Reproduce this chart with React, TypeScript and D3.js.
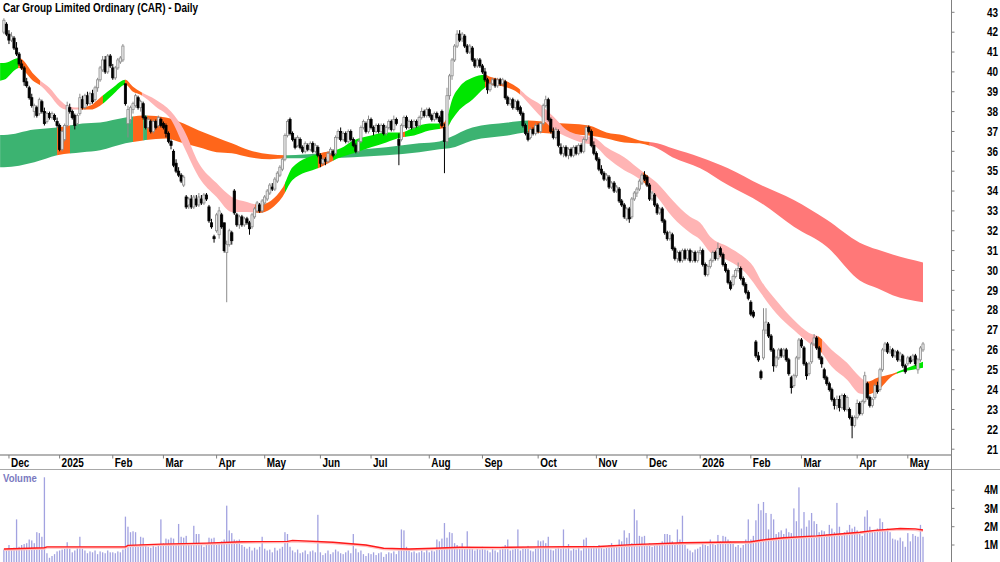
import React from "react";
import * as d3 from "d3";

// open, high, low, close
type Bar = [number, number, number, number];
type Band = [number, number, number];
type Seg = [number, number, string];

const title = "Car Group Limited Ordinary (CAR) - Daily";
const firstDay = "2024-11-28";
const lastDay = "2026-05-11";
const holidays = [
  "2024-12-25", "2024-12-26", "2025-01-01", "2025-01-27", "2025-04-18", "2025-04-21",
  "2025-04-25", "2025-06-09", "2025-12-25", "2025-12-26", "2026-01-01", "2026-01-26",
  "2026-04-03", "2026-04-06",
];
const priceTicks = [21, 22, 23, 24, 25, 26, 27, 28, 29, 30, 31, 32, 33, 34, 35, 36, 37, 38, 39, 40, 41, 42, 43];
const volumeTicks = [1, 2, 3, 4];
const volumeTickLabels = ["1M", "2M", "3M", "4M"];

const dec24: Bar[] = [
  [42.0, 42.7, 41.9, 42.6], [42.4, 42.5, 41.8, 41.9], [41.9, 42.1, 41.4, 41.6], [41.6, 42.0, 41.5, 41.8],
  [41.7, 41.8, 41.1, 41.2], [41.2, 41.5, 40.8, 40.9], [40.9, 41.0, 40.3, 40.4], [40.4, 40.6, 40.1, 40.2],
  [40.2, 40.3, 39.3, 39.5], [39.5, 39.7, 39.2, 39.3], [39.2, 39.3, 38.6, 38.7], [38.7, 38.9, 38.2, 38.3],
  [38.0, 38.4, 37.7, 38.3], [38.2, 38.3, 37.7, 37.8], [37.9, 38.7, 37.8, 38.6], [38.5, 38.6, 37.9, 38.0],
  [38.0, 38.2, 37.3, 37.4], [37.5, 38.0, 37.4, 37.9], [37.9, 38.0, 37.6, 37.7], [37.7, 38.0, 37.6, 37.9],
  [37.8, 37.9, 37.5, 37.6], [37.5, 37.7, 37.2, 37.3],
];
const jan25: Bar[] = [
  [37.3, 37.4, 36.0, 36.1], [36.1, 37.1, 36.0, 37.0], [36.6, 37.4, 36.5, 37.3], [37.3, 38.5, 37.2, 38.3],
  [38.2, 38.4, 37.9, 38.0], [38.0, 38.1, 37.6, 37.7], [37.8, 37.9, 37.1, 37.3], [37.4, 37.9, 37.3, 37.8],
  [37.9, 38.9, 37.8, 38.7], [38.6, 38.8, 38.1, 38.2], [38.2, 38.9, 38.1, 38.8], [38.8, 39.0, 38.3, 38.4],
  [38.4, 39.0, 38.3, 38.9], [38.9, 39.1, 38.4, 38.5], [38.6, 39.3, 38.5, 39.2], [39.2, 39.7, 39.0, 39.6],
  [39.6, 40.3, 39.5, 40.2], [40.1, 40.8, 40.0, 40.6], [40.6, 40.8, 39.9, 40.0], [40.0, 40.9, 39.9, 40.8],
  [40.8, 40.9, 40.2, 40.3],
];
const feb25: Bar[] = [
  [40.2, 40.4, 39.6, 39.7], [39.7, 40.3, 39.6, 40.2], [40.2, 40.7, 40.1, 40.6], [40.5, 40.8, 40.4, 40.7],
  [40.6, 41.4, 40.5, 41.3], [39.4, 39.4, 38.3, 38.4], [37.4, 38.3, 36.7, 38.1], [37.6, 38.3, 37.4, 38.2],
  [38.1, 38.5, 37.9, 38.4], [38.3, 38.9, 38.2, 38.8], [38.7, 38.8, 38.1, 38.2], [38.2, 38.6, 38.0, 38.5],
  [38.4, 38.5, 37.6, 37.7], [37.7, 37.8, 37.1, 37.2], [37.2, 37.7, 37.1, 37.6], [37.5, 37.6, 36.9, 37.0],
  [37.0, 37.6, 36.9, 37.5], [37.5, 37.6, 37.1, 37.2], [37.3, 37.8, 37.2, 37.7], [37.6, 37.7, 37.2, 37.3],
];
const mar25: Bar[] = [
  [37.4, 37.5, 37.1, 37.2], [37.3, 37.4, 36.7, 36.9], [36.9, 37.0, 36.4, 36.5], [36.5, 36.6, 36.1, 36.3],
  [36.0, 36.1, 35.2, 35.3], [35.4, 35.6, 34.9, 35.0], [35.0, 35.2, 34.7, 34.8], [34.8, 34.9, 34.4, 34.5],
  [34.3, 34.8, 34.2, 34.7], [33.7, 33.8, 33.1, 33.2], [33.3, 33.7, 33.1, 33.6], [33.6, 33.8, 33.1, 33.2],
  [33.2, 33.8, 33.1, 33.7], [33.6, 33.8, 33.2, 33.3], [33.3, 33.9, 33.2, 33.7], [33.6, 33.8, 33.3, 33.4],
  [33.4, 33.9, 33.3, 33.8], [33.8, 33.9, 33.5, 33.6], [33.2, 33.3, 32.4, 32.5], [32.4, 32.6, 32.1, 32.2],
  [31.7, 31.8, 31.4, 31.6],
];
const apr25: Bar[] = [
  [32.0, 32.9, 31.9, 32.8], [31.8, 33.2, 31.6, 33.0], [32.8, 32.9, 32.1, 32.2], [32.4, 32.4, 30.9, 31.0],
  [30.9, 31.5, 28.4, 31.3], [31.3, 32.1, 31.2, 32.0], [31.9, 32.0, 31.3, 31.5], [34.0, 34.1, 32.8, 32.9],
  [32.8, 32.9, 32.2, 32.3], [32.3, 32.8, 32.1, 32.7], [32.7, 32.8, 32.2, 32.3], [32.3, 32.7, 32.2, 32.6],
  [32.6, 32.7, 32.3, 32.4], [32.4, 32.5, 31.8, 32.1], [32.2, 32.9, 32.1, 32.8], [32.7, 33.2, 32.6, 33.1],
  [33.0, 33.5, 32.9, 33.4], [33.3, 33.4, 32.9, 33.0], [33.0, 33.6, 32.9, 33.5],
];
const may25: Bar[] = [
  [33.4, 33.8, 33.3, 33.7], [33.6, 34.1, 33.5, 34.0], [33.9, 34.4, 33.8, 34.3], [34.2, 34.4, 34.0, 34.1],
  [34.1, 34.7, 34.0, 34.6], [34.5, 35.0, 34.4, 34.9], [34.8, 35.3, 34.7, 35.2], [35.1, 35.7, 35.0, 35.6],
  [35.6, 36.9, 35.5, 36.8], [36.8, 37.6, 36.7, 37.5], [37.6, 37.7, 36.8, 36.9], [36.9, 37.0, 36.5, 36.6],
  [36.6, 36.7, 36.1, 36.2], [36.3, 36.8, 36.2, 36.7], [36.6, 36.7, 36.1, 36.2], [36.2, 36.3, 35.9, 36.0],
  [36.0, 36.5, 35.9, 36.4], [36.3, 36.4, 36.0, 36.1], [36.1, 36.5, 36.0, 36.4], [36.4, 36.5, 35.9, 36.0],
  [36.0, 36.4, 35.9, 36.3], [36.2, 36.3, 35.7, 35.8],
];
const jun25: Bar[] = [
  [35.8, 35.9, 35.2, 35.4], [35.4, 35.7, 35.3, 35.6], [35.6, 35.7, 35.3, 35.5], [35.5, 36.0, 35.4, 35.9],
  [35.9, 36.2, 35.8, 36.1], [36.0, 36.1, 35.7, 35.8], [35.9, 36.8, 35.8, 36.7], [36.7, 37.1, 36.6, 37.0],
  [37.0, 37.2, 36.5, 36.6], [36.6, 37.0, 36.5, 36.9], [36.9, 37.0, 36.4, 36.5], [36.5, 37.1, 36.4, 37.0],
  [37.0, 37.1, 36.5, 36.6], [36.6, 36.7, 36.2, 36.3], [36.3, 36.4, 35.9, 36.0], [36.0, 36.6, 35.9, 36.5],
  [36.5, 37.3, 36.4, 37.2], [37.2, 37.6, 37.1, 37.5], [37.4, 37.5, 36.9, 37.0], [37.0, 37.8, 36.9, 37.6],
];
const jul25: Bar[] = [
  [37.6, 37.7, 37.1, 37.2], [37.2, 37.3, 36.8, 37.0], [37.0, 37.4, 36.9, 37.3], [37.3, 37.4, 36.9, 37.0],
  [37.0, 37.4, 36.9, 37.3], [37.3, 37.4, 36.8, 36.9], [36.9, 37.3, 36.8, 37.2], [37.2, 37.6, 37.1, 37.5],
  [37.5, 37.6, 37.0, 37.1], [37.1, 37.8, 37.0, 37.6], [37.6, 37.7, 37.3, 37.4], [36.6, 36.9, 35.3, 36.3],
  [36.6, 37.4, 36.5, 37.3], [37.3, 37.8, 37.2, 37.7], [37.7, 37.8, 37.1, 37.2], [37.2, 37.6, 37.1, 37.5],
  [37.5, 37.6, 37.1, 37.2], [37.2, 37.6, 37.1, 37.5], [37.5, 37.6, 37.2, 37.3], [37.3, 37.8, 37.2, 37.7],
  [37.7, 38.2, 37.6, 38.0], [38.0, 38.1, 37.7, 37.8], [37.8, 38.2, 37.7, 38.1],
];
const aug25: Bar[] = [
  [38.1, 38.2, 37.7, 37.8], [37.8, 37.9, 37.5, 37.6], [37.6, 38.0, 37.5, 37.9], [37.9, 38.0, 37.6, 37.7],
  [37.7, 37.8, 37.4, 37.5], [38.0, 38.1, 37.2, 37.3], [37.2, 37.4, 34.9, 36.5], [36.5, 39.2, 36.3, 38.8],
  [38.8, 39.9, 38.6, 39.8], [39.8, 40.7, 39.6, 40.6], [40.6, 41.4, 40.5, 41.3], [41.3, 42.1, 41.2, 41.9],
  [41.9, 42.1, 41.5, 41.6], [41.7, 42.0, 41.5, 41.9], [41.8, 41.9, 41.2, 41.3], [41.3, 41.4, 40.9, 41.0],
  [41.0, 41.4, 40.9, 41.3], [41.2, 41.3, 40.5, 40.6], [40.6, 40.7, 40.2, 40.3], [40.3, 40.7, 40.2, 40.6],
  [40.6, 40.7, 40.2, 40.3],
];
const sep25: Bar[] = [
  [40.3, 40.4, 39.9, 40.0], [40.0, 40.2, 39.5, 39.6], [39.6, 39.7, 38.9, 39.1], [39.1, 39.5, 39.0, 39.4],
  [39.4, 39.7, 39.3, 39.6], [39.6, 39.7, 39.2, 39.3], [39.3, 39.7, 39.2, 39.6], [39.6, 39.7, 39.3, 39.4],
  [39.4, 39.7, 39.3, 39.6], [39.5, 39.6, 38.6, 38.7], [38.7, 38.8, 38.3, 38.4], [38.4, 38.7, 38.3, 38.6],
  [38.6, 38.7, 38.1, 38.2], [38.2, 38.6, 38.1, 38.5], [38.5, 38.6, 38.0, 38.1], [38.2, 38.3, 37.8, 37.9],
  [37.9, 38.0, 37.2, 37.3], [37.3, 37.4, 36.8, 36.9], [36.9, 37.0, 36.5, 36.6], [36.7, 37.2, 36.6, 37.1],
  [37.1, 37.2, 36.8, 36.9], [36.9, 37.4, 36.8, 37.3],
];
const oct25: Bar[] = [
  [37.3, 37.4, 36.9, 37.0], [37.0, 37.5, 36.9, 37.4], [37.4, 38.4, 37.3, 38.3], [38.3, 38.8, 38.2, 38.6],
  [38.6, 38.7, 37.5, 37.6], [37.6, 37.7, 36.9, 37.0], [37.0, 37.2, 36.6, 36.7], [36.7, 37.2, 36.6, 37.1],
  [37.0, 37.1, 36.2, 36.3], [36.2, 36.4, 35.8, 35.9], [35.9, 36.3, 35.7, 36.2], [36.2, 36.3, 35.7, 35.8],
  [35.8, 36.2, 35.6, 36.1], [36.1, 36.2, 35.7, 35.8], [35.8, 36.3, 35.7, 36.2], [36.2, 36.3, 35.8, 35.9],
  [35.9, 36.4, 35.8, 36.3], [36.3, 36.4, 35.9, 36.0], [36.0, 36.7, 35.9, 36.6], [36.6, 37.3, 36.5, 37.2],
  [37.2, 37.3, 36.9, 37.0], [37.0, 37.1, 36.2, 36.3], [36.3, 36.5, 35.8, 35.9],
];
const nov25: Bar[] = [
  [35.9, 36.0, 35.5, 35.6], [35.6, 35.7, 35.0, 35.1], [35.1, 35.3, 34.8, 34.9], [34.9, 35.0, 34.5, 34.6],
  [34.6, 34.9, 34.5, 34.8], [34.7, 34.8, 34.1, 34.2], [34.2, 34.5, 34.1, 34.4], [34.4, 34.5, 33.9, 34.0],
  [34.0, 34.3, 33.9, 34.2], [34.1, 34.2, 33.4, 33.5], [33.5, 33.6, 33.2, 33.3], [33.3, 33.4, 32.6, 32.7],
  [32.6, 33.2, 32.5, 33.1], [33.1, 33.2, 32.4, 32.6], [32.7, 33.7, 32.6, 33.6], [33.6, 34.0, 33.5, 33.9],
  [33.9, 34.2, 33.7, 34.1], [34.1, 34.6, 34.0, 34.5], [34.4, 34.9, 34.3, 34.8], [34.8, 35.0, 34.5, 34.6],
];
const dec25: Bar[] = [
  [34.7, 34.8, 34.2, 34.3], [34.3, 34.4, 33.5, 33.6], [33.6, 34.0, 33.5, 33.9], [33.8, 33.9, 33.2, 33.3],
  [33.3, 33.4, 32.8, 32.9], [32.9, 33.2, 32.8, 33.1], [33.1, 33.2, 32.4, 32.5], [32.5, 32.6, 31.8, 31.9],
  [31.9, 32.0, 31.5, 31.6], [31.6, 32.0, 31.5, 31.9], [31.8, 31.9, 31.0, 31.1], [31.1, 31.2, 30.5, 30.6],
  [30.6, 31.0, 30.4, 30.9], [30.9, 31.0, 30.4, 30.5], [30.5, 31.1, 30.4, 31.0], [31.0, 31.1, 30.5, 30.6],
  [30.6, 31.1, 30.5, 31.0], [31.0, 31.1, 30.4, 30.5], [30.5, 31.0, 30.4, 30.9], [30.9, 31.0, 30.4, 30.5],
  [30.5, 31.0, 30.4, 30.9],
];
const jan26: Bar[] = [
  [30.9, 31.2, 30.8, 31.0], [31.0, 31.1, 30.2, 30.3], [30.3, 30.4, 29.7, 29.8], [29.8, 30.3, 29.7, 30.2],
  [30.2, 30.6, 30.1, 30.5], [30.5, 31.0, 30.4, 30.9], [30.9, 31.0, 30.5, 30.6], [30.6, 31.4, 30.5, 31.1],
  [31.1, 31.2, 30.7, 30.8], [30.8, 30.9, 30.2, 30.3], [30.3, 30.4, 29.9, 30.0], [30.0, 30.1, 29.3, 29.4],
  [29.4, 29.5, 29.0, 29.1], [29.3, 29.8, 29.2, 29.7], [29.7, 30.1, 29.6, 30.0], [30.0, 30.4, 29.9, 30.1],
  [30.1, 30.2, 29.5, 29.6], [29.6, 29.7, 29.2, 29.3], [29.3, 29.4, 28.8, 28.9], [28.9, 29.0, 28.5, 28.6],
];
const feb26: Bar[] = [
  [28.4, 28.5, 27.7, 27.8], [27.9, 28.0, 27.6, 27.7], [26.4, 26.5, 25.6, 25.7], [25.7, 25.9, 25.4, 25.5],
  [24.9, 25.0, 24.5, 24.6], [25.6, 28.1, 25.5, 27.0], [27.0, 28.1, 26.8, 27.4], [27.3, 27.4, 26.6, 26.7],
  [26.7, 26.8, 25.9, 26.0], [26.0, 26.1, 24.9, 25.2], [25.2, 25.7, 25.1, 25.6], [25.6, 26.1, 25.5, 26.0],
  [26.0, 26.1, 25.6, 25.7], [25.7, 26.1, 25.6, 26.0], [26.0, 26.1, 25.4, 25.5], [25.5, 25.6, 24.7, 24.8],
  [24.6, 24.7, 23.8, 24.1], [24.2, 24.8, 24.1, 24.7], [24.7, 25.7, 24.6, 25.6], [25.6, 26.6, 25.5, 26.5],
];
const mar26: Bar[] = [
  [26.5, 26.6, 26.1, 26.2], [26.1, 26.2, 25.2, 25.3], [25.3, 25.4, 24.5, 24.7], [24.8, 25.4, 24.7, 25.3],
  [25.4, 26.4, 25.3, 26.3], [26.3, 26.8, 26.2, 26.6], [26.6, 26.7, 26.0, 26.1], [26.1, 26.2, 25.5, 25.6],
  [25.6, 25.7, 25.1, 25.3], [25.0, 25.1, 24.5, 24.6], [24.6, 24.7, 24.2, 24.3], [24.3, 24.4, 23.9, 24.0],
  [24.0, 24.1, 23.4, 23.5], [23.5, 23.6, 23.0, 23.2], [23.2, 23.7, 23.0, 23.5], [23.5, 23.7, 22.9, 23.1],
  [23.1, 23.8, 23.0, 23.7], [23.7, 23.8, 22.9, 23.0], [23.0, 23.7, 22.9, 23.6], [23.0, 23.1, 22.5, 22.6],
  [22.6, 22.7, 21.55, 22.2], [22.2, 22.7, 22.1, 22.6],
];
const apr26: Bar[] = [
  [22.6, 23.5, 22.5, 23.3], [23.3, 23.4, 22.7, 22.8], [22.8, 23.5, 22.7, 23.4], [23.4, 24.9, 23.3, 24.7],
  [24.3, 24.4, 23.5, 23.6], [23.6, 23.7, 23.1, 23.2], [23.2, 23.6, 23.1, 23.5], [23.6, 24.3, 23.5, 24.2],
  [24.2, 24.4, 23.8, 23.9], [24.0, 25.1, 23.9, 25.0], [25.0, 26.1, 24.9, 26.0], [26.0, 26.4, 25.9, 26.3],
  [26.3, 26.4, 25.8, 25.9], [25.9, 26.2, 25.8, 26.0], [26.0, 26.1, 25.6, 25.7], [25.7, 26.0, 25.6, 25.9],
  [25.9, 26.0, 25.4, 25.5], [25.5, 25.9, 25.4, 25.8], [25.7, 25.8, 25.1, 25.2], [25.2, 25.3, 24.8, 24.9],
];
const may26: Bar[] = [
  [25.3, 25.7, 25.2, 25.6], [25.6, 25.7, 25.3, 25.4], [25.5, 25.8, 25.4, 25.7], [25.7, 25.8, 25.2, 25.3],
  [25.0, 25.6, 24.8, 25.5], [25.5, 26.2, 25.4, 26.1], [26.0, 26.4, 25.9, 26.3],
];

// volume in millions, month by month
const volDec24 = [0.75, 0.7, 1.0, 0.8, 0.85, 2.4, 0.9, 1.0, 1.05, 1.1, 1.3, 1.25, 1.1, 1.7, 1.65, 1.45, 4.7, 0.55, 0.3, 0.4, 0.5, 0.65];
const volJan25 = [0.7, 0.75, 0.8, 1.15, 0.8, 0.6, 0.7, 0.85, 1.45, 0.8, 0.7, 0.55, 0.65, 0.6, 0.7, 0.5, 0.65, 0.6, 0.55, 0.7, 0.6];
const volFeb25 = [0.6, 0.55, 0.65, 0.6, 0.75, 2.55, 2.0, 1.7, 1.75, 1.7, 0.9, 1.45, 1.4, 1.0, 0.9, 0.85, 0.95, 0.9, 1.0, 2.4];
const volMar25 = [1.1, 1.35, 1.3, 1.4, 1.35, 1.0, 2.15, 1.45, 1.4, 1.5, 1.1, 1.0, 2.05, 1.6, 1.6, 1.0, 0.9, 1.0, 1.4, 1.35, 1.4];
const volApr25 = [1.0, 1.05, 1.2, 1.3, 3.15, 1.8, 1.65, 1.3, 1.25, 1.3, 1.0, 0.9, 0.8, 0.9, 0.7, 0.85, 0.75, 0.9, 1.45];
const volMay25 = [0.8, 0.7, 0.75, 0.6, 0.85, 0.7, 0.8, 0.9, 1.7, 1.6, 0.9, 0.7, 0.6, 0.75, 0.55, 0.6, 0.7, 0.5, 0.65, 0.7, 0.6, 2.65];
const volJun25 = [0.6, 0.45, 0.55, 0.7, 0.5, 0.6, 0.75, 0.65, 0.55, 0.5, 0.6, 0.7, 0.55, 1.6, 0.8, 0.6, 0.7, 0.5, 0.4, 0.55];
const volJul25 = [0.5, 0.6, 0.45, 0.55, 0.6, 0.35, 0.5, 0.6, 0.55, 0.65, 0.5, 0.7, 1.85, 1.8, 0.9, 0.7, 0.6, 0.65, 0.55, 0.6, 0.7, 0.6, 0.75];
const volAug25 = [0.6, 0.7, 0.65, 1.3, 1.2, 1.35, 2.2, 1.4, 1.7, 1.65, 1.1, 1.0, 0.9, 1.1, 0.8, 1.75, 0.9, 0.8, 0.7, 0.85, 0.75];
const volSep25 = [0.9, 0.75, 0.7, 0.6, 0.8, 0.7, 0.6, 0.75, 0.9, 1.0, 1.3, 0.7, 0.75, 0.8, 1.85, 0.7, 0.9, 0.85, 0.95, 0.7, 0.65, 0.8];
const volOct25 = [1.25, 1.2, 1.25, 1.1, 1.45, 0.75, 0.7, 0.8, 0.9, 0.8, 1.85, 0.8, 1.05, 0.7, 0.8, 0.75, 0.9, 0.7, 1.3, 1.4, 0.9, 0.85, 0.95];
const volNov25 = [0.85, 1.0, 0.9, 0.8, 0.9, 1.0, 1.1, 0.95, 1.0, 1.3, 1.2, 1.8, 1.4, 1.65, 1.1, 2.95, 2.35, 1.5, 1.45, 1.5];
const volDec25 = [1.0, 1.1, 0.9, 1.05, 1.0, 1.1, 1.2, 1.6, 1.6, 1.55, 1.2, 1.1, 1.85, 1.3, 2.6, 1.0, 0.8, 0.7, 0.6, 0.75, 0.8];
const volJan26 = [0.9, 1.1, 1.0, 0.95, 1.3, 1.1, 1.0, 1.55, 1.2, 1.5, 1.45, 1.3, 1.2, 1.1, 0.9, 1.0, 0.85, 1.0, 1.3, 2.4];
const volFeb26 = [1.3, 1.5, 2.35, 3.25, 2.9, 3.35, 2.75, 1.85, 2.7, 2.4, 1.6, 1.7, 1.8, 1.6, 1.9, 1.7, 1.65, 3.0, 2.3, 4.15];
const volMar26 = [1.9, 2.8, 2.0, 2.35, 2.75, 2.3, 2.15, 1.7, 1.8, 1.75, 1.6, 2.1, 1.9, 1.7, 3.3, 2.0, 1.5, 1.7, 1.8, 2.1, 1.9, 2.0];
const volApr26 = [1.8, 1.6, 1.5, 2.55, 2.9, 2.0, 1.7, 1.8, 1.9, 2.45, 2.25, 1.8, 1.9, 1.7, 1.35, 1.3, 1.25, 1.4, 1.2, 0.9];
const volMay26 = [1.65, 1.2, 1.6, 1.5, 1.45, 2.1, 1.45];

// volume moving average: [bar index, millions]
const volumeAverage: [number, number][] = [
  [0, 0.78], [16, 0.85], [17, 0.9], [48, 0.9], [49, 0.98], [62, 1.05], [80, 1.1], [94, 1.18],
  [112, 1.2], [114, 1.25], [130, 1.15], [143, 1.0], [150, 0.82], [160, 0.78], [170, 0.82],
  [180, 0.88], [196, 0.87], [212, 0.9], [235, 0.92], [248, 1.02], [268, 1.12], [295, 1.18],
  [301, 1.3], [308, 1.4], [321, 1.5], [330, 1.6], [338, 1.7], [344, 1.8], [354, 1.9], [360, 1.88], [363, 1.82],
];

// short-term MA ribbon edges: [bar index, edge a, edge b]
const shortRibbon: Band[] = [
  [-1.5, 40.45, 39.55], [0, 40.45, 39.6], [6, 40.7, 40.2], [12, 39.85, 39.5], [14, 39.6, 39.35],
  [18, 39.2, 38.85], [22, 38.6, 38.25], [25, 38.3, 38.1], [29, 38.2, 38.1], [34, 38.3, 38.1],
  [38, 38.7, 38.3], [43, 39.2, 38.85], [48, 39.6, 39.35], [51, 39.25, 39.0], [54, 39.0, 38.85],
  [60, 38.6, 38.25], [66, 38.0, 37.6], [71, 37.1, 36.25], [77, 35.4, 34.7], [84, 34.4, 33.7],
  [90, 33.7, 32.95], [96, 33.45, 32.95], [101, 33.3, 32.9], [110, 34.15, 33.7], [114, 35.2, 34.55],
  [125, 35.9, 35.2], [133, 36.15, 35.7], [138, 36.55, 35.9], [145, 36.8, 36.2], [151, 36.95, 36.45],
  [157, 36.95, 36.7], [162, 37.2, 36.8], [168, 37.4, 37.05], [173, 37.4, 37.15], [175, 37.7, 37.2],
  [177, 38.6, 37.6], [180, 39.25, 38.1], [185, 39.7, 38.6], [190, 39.85, 39.2], [192, 39.75, 39.35],
  [199, 39.5, 39.2], [203, 39.2, 38.95], [207, 38.75, 38.45], [212, 38.35, 37.75], [217, 37.75, 37.1],
  [222, 37.1, 36.75], [228, 36.8, 36.45], [233, 36.7, 36.3], [238, 36.2, 35.7], [245, 35.7, 35.05],
  [250, 35.2, 34.7], [253, 34.9, 34.4], [258, 34.4, 33.7], [264, 33.55, 32.7], [271, 32.7, 31.9],
  [275, 32.4, 31.55], [279, 31.7, 30.9], [286, 31.2, 30.5], [292, 30.7, 30.0], [296, 30.2, 29.4],
  [299, 29.5, 28.85], [305, 28.5, 27.85], [312, 27.5, 27.0], [318, 26.85, 26.35], [322, 26.65, 26.0],
  [327, 26.0, 25.15], [333, 25.35, 24.5], [338, 24.65, 23.8], [341, 24.4, 23.75], [345, 24.6, 23.95],
  [351, 24.8, 24.7], [355, 25.0, 24.9], [359, 25.2, 25.0], [363, 25.4, 25.1],
];
// long-term MA ribbon edges
const longRibbon: Band[] = [
  [-1.5, 36.82, 35.2], [0, 36.82, 35.2], [12, 37.1, 35.45], [21, 37.2, 35.8], [31, 37.4, 35.95],
  [38, 37.45, 36.05], [48, 37.7, 36.4], [55, 37.8, 36.55], [64, 37.7, 36.65], [71, 37.4, 36.4],
  [77, 37.05, 36.2], [84, 36.7, 35.95], [90, 36.4, 35.9], [97, 36.05, 35.7], [105, 35.85, 35.6],
  [112, 35.8, 35.65], [125, 35.9, 35.65], [138, 36.05, 35.7], [151, 36.2, 35.8], [164, 36.4, 35.95],
  [172, 36.5, 36.1], [176, 36.7, 36.15], [185, 37.2, 36.55], [199, 37.45, 36.8], [207, 37.55, 36.95],
  [216, 37.45, 36.9], [231, 37.3, 36.8], [238, 36.95, 36.65], [245, 36.8, 36.45], [251, 36.55, 36.4],
  [258, 36.4, 36.15], [264, 36.15, 35.7], [275, 35.7, 35.15], [286, 35.15, 34.3], [299, 34.3, 33.4],
  [312, 33.55, 32.2], [325, 32.55, 31.2], [338, 31.4, 29.5], [345, 31.05, 29.1], [351, 30.8, 28.75],
  [363, 30.4, 28.4],
];

const GREEN = "#00e600";
const SEA = "#3cb371";
const ORANGE = "#ff661a";
const PINK = "#ffb4b4";
const RED = "#ff7878";

// colour of each ribbon stretch: [from bar, to bar, colour]
const shortColours: Seg[] = [
  [-1.6, 5.6, GREEN], [5.6, 14.3, ORANGE], [14.3, 29.3, PINK], [29.3, 39.1, ORANGE], [39.1, 47.8, GREEN],
  [47.8, 54.5, ORANGE], [54.5, 99.2, PINK], [99.2, 111, ORANGE], [111, 124, GREEN], [124, 130, ORANGE],
  [130, 156.4, GREEN], [156.4, 158.4, ORANGE], [158.4, 172.2, GREEN], [172.2, 175, ORANGE], [175, 190, GREEN],
  [190, 203.8, ORANGE], [203.8, 252.4, PINK], [252.4, 254.4, ORANGE], [254.4, 321.5, PINK], [321.5, 323.1, ORANGE],
  [323.1, 340.9, PINK], [340.9, 352.7, ORANGE], [352.7, 363.2, GREEN],
];
const longColours: Seg[] = [
  [-1.6, 21, SEA], [21, 26.1, ORANGE], [26.1, 51, SEA], [51, 55, ORANGE], [55, 56.5, SEA],
  [56.5, 111, ORANGE], [111, 207, SEA], [207, 255, ORANGE], [255, 363.2, RED],
];

const FONT = "'Liberation Sans', Arial, sans-serif";
const SQUEEZE = 0.83;

const Label = ({ x, y, anchor = "start", size = 12, fill = "#000", children }: any) => (
  <text
    transform={`translate(${x},${y}) scale(${SQUEEZE},1)`}
    textAnchor={anchor}
    fontSize={size}
    fontWeight="bold"
    fill={fill}
    fontFamily={FONT}
  >
    {children}
  </text>
);

function tradingDays(): Date[] {
  const parse = d3.timeParse("%Y-%m-%d");
  const fmt = d3.timeFormat("%Y-%m-%d");
  const off = new Set(holidays);
  const start = parse(firstDay) as Date;
  const end = d3.timeDay.offset(parse(lastDay) as Date, 1);
  return d3.timeDay
    .range(start, end)
    .filter((d) => d.getDay() !== 0 && d.getDay() !== 6 && !off.has(fmt(d)));
}

export default function App() {
  const bars: Bar[] = [
    ...dec24, ...jan25, ...feb25, ...mar25, ...apr25, ...may25, ...jun25, ...jul25, ...aug25,
    ...sep25, ...oct25, ...nov25, ...dec25, ...jan26, ...feb26, ...mar26, ...apr26, ...may26,
  ];
  const volume = [
    ...volDec24, ...volJan25, ...volFeb25, ...volMar25, ...volApr25, ...volMay25, ...volJun25,
    ...volJul25, ...volAug25, ...volSep25, ...volOct25, ...volNov25, ...volDec25, ...volJan26,
    ...volFeb26, ...volMar26, ...volApr26, ...volMay26,
  ];
  const dates = tradingDays();
  const n = bars.length;

  const width = 1000;
  const height = 562;
  const axisX = 951.5;
  const dateTop = 455;
  const dateBottom = 469.5;

  const x = d3.scaleLinear().domain([0, n - 1]).range([3.9, 923]);
  const y = d3.scaleLinear().domain([21, 43]).range([449.2, 12.3]);
  const yv = d3.scaleLinear().domain([0, 4]).range([563.3, 490.1]);

  const ribbon = d3
    .area<Band>()
    .x((d) => x(d[0]))
    .y0((d) => y(d[1]))
    .y1((d) => y(d[2]))
    .curve(d3.curveMonotoneX);
  const volLine = d3
    .line<[number, number]>()
    .x((d) => x(d[0]))
    .y((d) => yv(d[1]));

  const monthName = d3.timeFormat("%b");
  const monthTicks: { i: number; label: string }[] = [];
  dates.forEach((d, i) => {
    if (i > 0 && d.getMonth() !== dates[i - 1].getMonth()) {
      monthTicks.push({ i, label: d.getMonth() === 0 ? String(d.getFullYear()) : monthName(d) });
    }
  });

  const ribbonPaths = (band: Band[], segs: Seg[], key: string) => {
    const d = ribbon(band) || "";
    return segs.map(([a, b, col], k) => (
      <g key={`${key}${k}`}>
        <clipPath id={`${key}-clip-${k}`}>
          <rect x={x(a)} y={0} width={x(b) - x(a) + 0.3} height={dateTop} />
        </clipPath>
        <path d={d} fill={col} clipPath={`url(#${key}-clip-${k})`} />
      </g>
    ));
  };

  const bodyW = 2.2;

  return (
    <svg
      width={width}
      height={height}
      style={{ position: "fixed", left: 0, top: 0, background: "#fff" }}
    >
      <rect width={width} height={height} fill="#fff" />

      {/* moving average ribbons */}
      {ribbonPaths(longRibbon, longColours, "long")}
      {ribbonPaths(shortRibbon, shortColours, "short")}

      {/* candles */}
      {bars.map(([o, h, l, c], i) => {
        const up = c >= o;
        const cx = x(i);
        const top = y(Math.max(o, c));
        const bh = Math.max(0.8, Math.abs(y(o) - y(c)));
        return (
          <g key={`c${i}`}>
            <line x1={cx} x2={cx} y1={y(h)} y2={y(l)} stroke={up ? "#8c8c8c" : "#000"} strokeWidth={1} />
            <rect
              x={cx - bodyW / 2}
              y={top}
              width={bodyW}
              height={bh}
              fill={up ? "#ececec" : "#000"}
              stroke={up ? "#8c8c8c" : "#000"}
              strokeWidth={0.8}
            />
          </g>
        );
      })}

      <Label x={3} y={12}>{title}</Label>

      {/* date strip */}
      <line x1={0} x2={axisX} y1={dateTop} y2={dateTop} stroke="#b4b4b4" strokeWidth={2} />
      <line x1={0} x2={width} y1={dateBottom} y2={dateBottom} stroke="#a8a8a8" strokeWidth={1} />
      {monthTicks.map((t) => (
        <g key={`m${t.i}`}>
          <line x1={x(t.i)} x2={x(t.i)} y1={dateTop} y2={dateTop + 3.5} stroke="#808080" strokeWidth={1} />
          <Label x={x(t.i) + 2} y={466.5}>{t.label}</Label>
        </g>
      ))}

      {/* volume */}
      <Label x={3} y={481.5} size={11.5} fill="#7a7ac0">Volume</Label>
      {volume.map((v, i) => (
        <rect key={`v${i}`} x={x(i) - 0.65} y={yv(v)} width={1.3} height={yv(0) - yv(v)} fill="#a2a2e0" />
      ))}
      <path d={volLine(volumeAverage) || ""} fill="none" stroke="#ffc0c0" strokeWidth={2} transform="translate(0,1)" />
      <path d={volLine(volumeAverage) || ""} fill="none" stroke="#ff1a1a" strokeWidth={1.4} />

      {/* right axis */}
      <line x1={axisX} x2={axisX} y1={0} y2={height} stroke="#808080" strokeWidth={1} />
      {priceTicks.map((p) => (
        <g key={`p${p}`}>
          <line x1={axisX} x2={axisX + 3} y1={y(p)} y2={y(p)} stroke="#808080" />
          <Label x={998} y={y(p) + 4.3} anchor="end">{p}</Label>
        </g>
      ))}
      {volumeTicks.map((v, k) => (
        <g key={`vt${v}`}>
          <line x1={axisX} x2={axisX + 3} y1={yv(v)} y2={yv(v)} stroke="#808080" />
          <Label x={998} y={yv(v) + 4.3} anchor="end">{volumeTickLabels[k]}</Label>
        </g>
      ))}
    </svg>
  );
}
